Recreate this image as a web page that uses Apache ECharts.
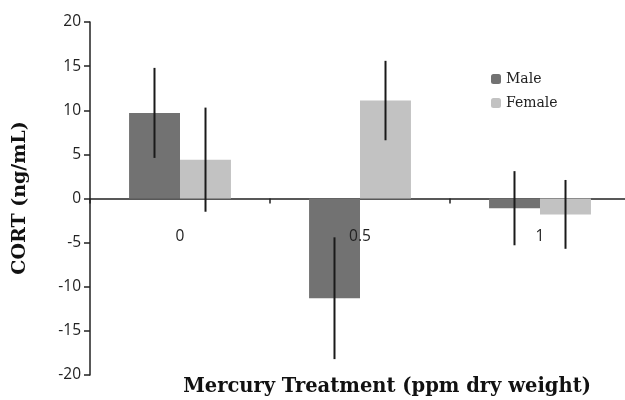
<!DOCTYPE html>
<html>
<head>
<meta charset="utf-8">
<script src="https://cdn.jsdelivr.net/npm/echarts@6/dist/echarts.min.js"></script>
<style>
  html, body { margin: 0; padding: 0; background: #fff; }
  #main { width: 625px; height: 400px; }
</style>
</head>
<body>
<div id="main"></div>
<script>
var categories = ['0', '0.5', '1'];
var male = [9.7, -11.3, -1.1];
var maleErr = [5.1, 6.9, 4.2];
var female = [4.4, 11.1, -1.8];
var femaleErr = [5.9, 4.5, 3.9];
var yTicks = [-20, -15, -10, -5, 0, 5, 10, 15, 20];

var myChart = echarts.init(document.getElementById('main'));
var colors = ['#727272', '#c2c2c2'];

// vertical error lines, no caps
function errorSeries(name, values, errs, side) {
    var data = values.map(function (v, i) { return [i, v - errs[i], v + errs[i]]; });
    return {
        name: name + ' err',
        type: 'custom',
        z: 10,
        silent: true,
        renderItem: function (params, api) {
            var band = api.size([1, 0])[0];
            var lo = api.coord([api.value(0), api.value(1)]);
            var hi = api.coord([api.value(0), api.value(2)]);
            var x = lo[0] + side * band * 0.1417;
            return {
                type: 'line',
                shape: { x1: x, y1: lo[1], x2: x, y2: hi[1] },
                style: { stroke: '#1a1a1a', lineWidth: 2 }
            };
        },
        data: data
    };
}

var option = {
    animation: false,
    color: colors,
    grid: { left: 90, top: 22, bottom: 25, width: 540, containLabel: false, outerBoundsMode: 'none' },
    legend: {
        data: ['Male', 'Female'],
        orient: 'vertical',
        left: 486,
        top: 67,
        itemWidth: 10,
        itemHeight: 10,
        itemGap: 10,
        textStyle: { fontFamily: 'DejaVu Serif', fontSize: 14, color: '#222' }
    },
    xAxis: [
        {
            type: 'category',
            data: categories,
            axisLine: { onZero: true, lineStyle: { color: '#222', width: 1.5 } },
            axisTick: { show: true, length: 5, lineStyle: { color: '#222', width: 1.5 } },
            axisLabel: { show: false }
        },
        {
            // label-only axis sitting on the zero line, drawn above the bars
            type: 'category',
            data: categories,
            position: 'bottom',
            offset: -176.5,
            z: 5,
            axisLine: { show: false },
            axisTick: { show: false },
            axisLabel: { margin: 30, fontSize: 15.5, color: '#222', fontFamily: 'Open Sans' }
        }
    ],
    yAxis: {
        type: 'value',
        min: -20,
        max: 20,
        interval: 5,
        splitLine: { show: false },
        axisLine: { show: true, lineStyle: { color: '#222', width: 1.5 } },
        axisTick: { show: true, length: 6, lineStyle: { color: '#222', width: 1.5 } },
        axisLabel: {
            margin: 9, fontSize: 15.5, color: '#222', fontFamily: 'Open Sans',
            formatter: function (v) { return yTicks.indexOf(v) >= 0 ? String(v) : ''; }
        }
    },
    graphic: [
        {
            type: 'text',
            x: 20, y: 198,
            rotation: Math.PI / 2,
            style: {
                text: 'CORT (ng/mL)',
                font: 'bold 19px "DejaVu Serif"',
                fill: '#111',
                align: 'center',
                verticalAlign: 'middle'
            }
        },
        {
            type: 'text',
            x: 387, y: 387,
            style: {
                text: 'Mercury Treatment (ppm dry weight)',
                font: 'bold 19.5px "DejaVu Serif"',
                fill: '#111',
                align: 'center',
                verticalAlign: 'middle'
            }
        }
    ],
    series: [
        {
            name: 'Male', type: 'bar', data: male,
            barWidth: '28.3%', barGap: '0%'
        },
        {
            name: 'Female', type: 'bar', data: female,
            barWidth: '28.3%', barGap: '0%'
        },
        errorSeries('Male', male, maleErr, -1),
        errorSeries('Female', female, femaleErr, 1)
    ]
};

myChart.setOption(option);
</script>
</body>
</html>
